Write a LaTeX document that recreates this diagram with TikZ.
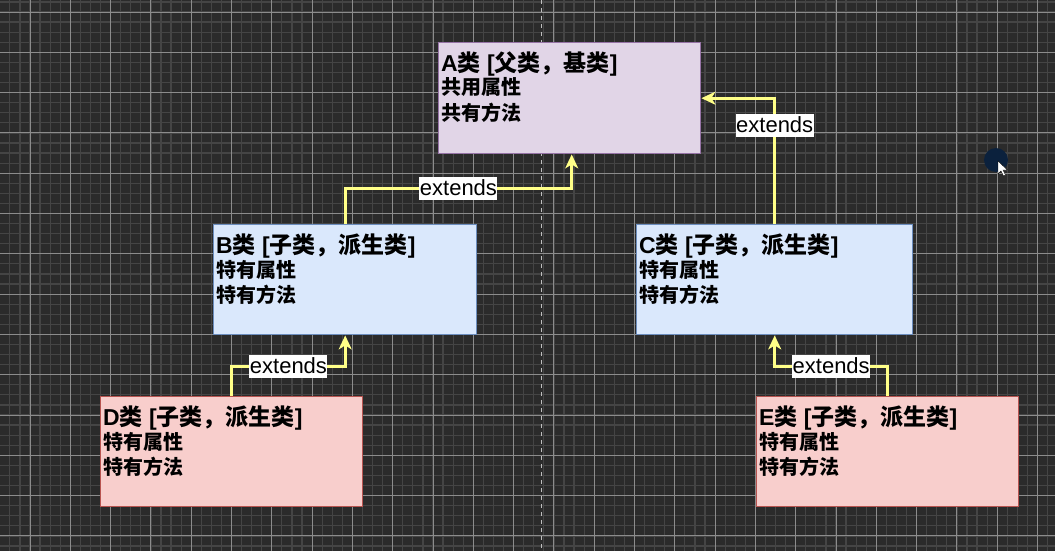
\documentclass[tikz,border=0pt]{standalone}
\usepackage{fontspec}
\setmainfont{Liberation Sans}
\newfontfamily\cjk{Noto Sans CJK SC}
\usetikzlibrary{arrows.meta}
\newcommand\zh[1]{{\cjk #1}}

\definecolor{canvas}{HTML}{2B2B2B}
\definecolor{gridminor}{HTML}{454545}
\definecolor{gridmajor}{HTML}{8C8C8C}
\definecolor{purplefill}{HTML}{E1D5E7}
\definecolor{purpleline}{HTML}{9673A6}
\definecolor{bluefill}{HTML}{DAE8FC}
\definecolor{blueline}{HTML}{6C8EBF}
\definecolor{redfill}{HTML}{F8CECC}
\definecolor{redline}{HTML}{B85450}
\definecolor{edgeyellow}{HTML}{FFFF88}
\definecolor{cursorblue}{HTML}{0B213D}

\tikzset{
  minorline/.style={gridminor, line width=1.2pt},
  majorline/.style={gridmajor, line width=0.9pt},
  classbox/.style={anchor=north west, inner sep=0pt, line width=1.4pt},
  parentbox/.style={classbox, fill=purplefill, draw=purpleline},
  childbox/.style={classbox, fill=bluefill, draw=blueline},
  leafbox/.style={classbox, fill=redfill, draw=redline},
  ttl/.style={anchor=base west, inner sep=0pt, font=\fontsize{23}{27}\selectfont\bfseries},
  bodytxt/.style={anchor=base west, inner sep=0pt, font=\fontsize{20}{24}\selectfont\bfseries},
  ext/.style={edgeyellow, line width=3pt,
    -{Stealth[length=14pt, width=13pt, inset=4pt]}},
  lbl/.style={fill=white, text=black, inner xsep=0.5pt, inner ysep=0pt,
    minimum height=23pt, font=\fontsize{22}{26}\selectfont},
}

\begin{document}
\begin{tikzpicture}[x=1pt, y=-1pt]
  % canvas and grid
  \fill[canvas] (0,0) rectangle (1055,551);
  \useasboundingbox (0,0) rectangle (1055,551);
  \foreach \i in {-3,...,102} {
    \draw[minorline] ({30+10.075*\i},0) -- ({30+10.075*\i},551);
  }
  \foreach \j in {-1,...,54} {
    \draw[minorline] (0,{12+10.075*\j}) -- (1055,{12+10.075*\j});
  }
  \foreach \i in {-1,...,25} {
    \draw[majorline] ({30+40.3*\i},0) -- ({30+40.3*\i},551);
  }
  \foreach \j in {0,...,13} {
    \draw[majorline] (0,{12+40.3*\j}) -- (1055,{12+40.3*\j});
  }
  % page break guide
  \draw[white!75!black, line width=1pt, dash pattern=on 4pt off 4pt] (541,0) -- (541,551);

  % class boxes
  \node[parentbox, minimum width=262pt, minimum height=111pt] (A) at (438,42) {};
  \node[childbox,  minimum width=263pt, minimum height=110pt] (B) at (213,224) {};
  \node[childbox,  minimum width=276pt, minimum height=110pt] (C) at (636,224) {};
  \node[leafbox,   minimum width=262pt, minimum height=110pt] (D) at (100,396) {};
  \node[leafbox,   minimum width=262pt, minimum height=110pt] (E) at (756,396) {};

  % class texts
  \node[ttl]     (At)  at ([shift={(3,29)}]A.north west) {A\zh{类} [\zh{父类，基类}]};
  \node[bodytxt] (Aa)  at ([shift={(3,53)}]A.north west) {\zh{共用属性}};
  \node[bodytxt] (Am)  at ([shift={(3,78)}]A.north west) {\zh{共有方法}};

  \node[ttl]     (Bt)  at ([shift={(3,29)}]B.north west) {B\zh{类} [\zh{子类，派生类}]};
  \node[bodytxt] (Ba)  at ([shift={(3,53)}]B.north west) {\zh{特有属性}};
  \node[bodytxt] (Bm)  at ([shift={(3,78)}]B.north west) {\zh{特有方法}};

  \node[ttl]     (Ct)  at ([shift={(3,29)}]C.north west) {C\zh{类} [\zh{子类，派生类}]};
  \node[bodytxt] (Ca)  at ([shift={(3,53)}]C.north west) {\zh{特有属性}};
  \node[bodytxt] (Cm)  at ([shift={(3,78)}]C.north west) {\zh{特有方法}};

  \node[ttl]     (Dt)  at ([shift={(3,29)}]D.north west) {D\zh{类} [\zh{子类，派生类}]};
  \node[bodytxt] (Da)  at ([shift={(3,53)}]D.north west) {\zh{特有属性}};
  \node[bodytxt] (Dm)  at ([shift={(3,78)}]D.north west) {\zh{特有方法}};

  \node[ttl]     (Et)  at ([shift={(3,29)}]E.north west) {E\zh{类} [\zh{子类，派生类}]};
  \node[bodytxt] (Ea)  at ([shift={(3,53)}]E.north west) {\zh{特有属性}};
  \node[bodytxt] (Em)  at ([shift={(3,78)}]E.north west) {\zh{特有方法}};

  % inheritance connectors
  \draw[ext] (B.north) -- ++(0,-36) -| node[lbl, pos=0.25] {extends} ([xshift=2pt]A.south);
  \draw[ext] (C.north) |- node[lbl, pos=0.393] {extends} (A.east);
  \draw[ext] (D.north) -- ++(0,-30) -| node[lbl, pos=0.25] {extends} (B.south);
  \draw[ext] (E.north) -- ++(0,-30) -| node[lbl, pos=0.25] {extends} (C.south);

  % pointer marker
  \fill[cursorblue] (996,160) circle (12pt);
  \fill[white, draw=black, line width=0.4pt]
    (998,161) -- (998,174) -- (1001,171) -- (1003.5,176) -- (1005.5,175)
    -- (1003,170) -- (1007.5,170) -- cycle;
\end{tikzpicture}
\end{document}
